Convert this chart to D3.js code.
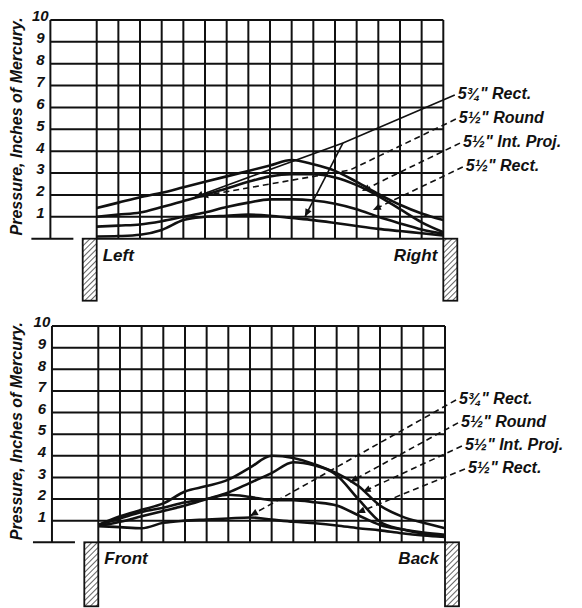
<!DOCTYPE html>
<html><head><meta charset="utf-8">
<script src="https://cdn.jsdelivr.net/npm/d3@7"></script>
<style>
body{margin:0;background:#fff}
text{font-family:"Liberation Sans",Arial,sans-serif;font-style:italic;fill:#111}
</style>
</head><body>
<svg id="chart" width="582" height="608"></svg>
<script>
// ---------- data ----------
const columns = d3.range(0, 17);               // 16 grid divisions across the span
const yTicks = [1,2,3,4,5,6,7,8,9,10];         // pressure, inches of mercury
const seriesLabels = ['5\u00BE" Rect.', '5\u00BD" Round', '5\u00BD" Int. Proj.', '5\u00BD" Rect.'];
const axisTitle = 'Pressure, Inches of Mercury.';

// Upper diagram: Left -> Right
const lrCurveA = [1.4,1.65,1.9,2.1,2.35,2.6,2.85,3.1,3.35,3.6,3.4,3.1,2.6,2.05,1.55,1.15,0.85];
const lrCurveB = [1.0,1.1,1.2,1.45,1.72,2.0,2.3,2.6,2.85,2.95,2.95,2.8,2.45,1.95,1.35,0.75,0.3];
const lrCurveC = [0.55,0.6,0.65,0.8,1.0,1.2,1.45,1.65,1.8,1.8,1.75,1.6,1.35,1.0,0.7,0.42,0.22];
const lrCurveD = [0.1,0.12,0.18,0.4,0.85,1.0,1.05,1.1,1.05,0.95,0.85,0.72,0.58,0.45,0.35,0.25,0.15];
// leader lines (column, pressure) from each label to its curve
const lrLeaders = [
  [[16.53,6.57],[11.37,4.38],[4.54,1.91]],
  [[16.58,5.47],[11.69,3.14],[4.78,1.94]],
  [[16.77,4.37],[13.4,2.75],[12.24,2.18]],
  [[16.9,3.28],[12.75,1.31]]
];
const lrBranch = [[11.37,4.38],[9.61,1.0]];

// Lower diagram: Front -> Back
const fbCurveA = [0.8,1.2,1.5,1.8,2.35,2.6,2.9,3.45,4.0,3.9,3.6,3.1,2.0,0.95,0.6,0.4,0.25];
const fbCurveB = [0.75,0.95,1.2,1.45,1.7,2.0,2.3,2.75,3.2,3.7,3.55,3.2,2.6,1.7,1.2,0.9,0.65];
const fbCurveC = [0.8,1.1,1.4,1.6,1.85,2.0,2.2,2.1,1.95,1.95,1.85,1.7,1.25,0.8,0.6,0.45,0.35];
const fbCurveD = [0.75,0.7,0.65,0.9,1.0,1.05,1.1,1.15,1.05,0.95,0.88,0.78,0.65,0.55,0.42,0.32,0.25];
const fbLeaders = [
  [[16.51,6.58],[7.0,1.22]],
  [[16.6,5.52],[11.62,2.79]],
  [[16.78,4.45],[12.2,2.33]],
  [[16.92,3.39],[11.94,1.36]]
];

// ---------- drawing ----------
const svg = d3.select('#chart');
const defs = svg.append('defs');
const pat = defs.append('pattern').attr('id','hatch').attr('patternUnits','userSpaceOnUse')
  .attr('width',4).attr('height',4).attr('patternTransform','rotate(45)');
pat.append('rect').attr('width',4).attr('height',4).attr('fill','#fff');
pat.append('line').attr('x1',0).attr('y1',0).attr('x2',0).attr('y2',4).attr('stroke','#111').attr('stroke-width',1.3);

function drawPanel(cfg){
  const g = svg.append('g');
  const x = d3.scaleLinear().domain([0,16]).range([cfg.x0, cfg.x1]);
  const y = d3.scaleLinear().domain([0,10]).range([cfg.y0, cfg.y1]);
  const leftEdge = x(0) - 2*(x(1)-x(0)) - 3;

  // grid
  const grid = g.append('g').attr('stroke','#111').attr('stroke-width',2).attr('fill','none');
  grid.selectAll('line.v').data(columns).join('line')
    .attr('x1',d=>x(d)).attr('x2',d=>x(d)).attr('y1',y(10)).attr('y2',y(0));
  grid.append('line').attr('x1',leftEdge).attr('x2',leftEdge).attr('y1',y(10)).attr('y2',y(0));
  grid.selectAll('line.h').data(yTicks).join('line')
    .attr('x1',leftEdge).attr('x2',x(16)).attr('y1',d=>y(d)).attr('y2',d=>y(d));
  grid.append('line').attr('x1',x(0)).attr('x2',x(16)).attr('y1',y(0)).attr('y2',y(0));
  grid.append('line').attr('x1',leftEdge-19).attr('x2',leftEdge+23).attr('y1',y(0)).attr('y2',y(0));

  // tick labels via axis
  const ax = g.append('g').attr('transform',`translate(${leftEdge-10},-4)`)
    .call(d3.axisLeft(y).tickValues(yTicks).tickSize(0).tickPadding(0).tickFormat(d3.format('d')));
  ax.select('.domain').remove();
  ax.selectAll('text').attr('text-anchor','middle').attr('x',0)
    .style('font-size','15px').style('font-weight','bold').style('font-style','italic')
    .style('font-family','"Liberation Sans",Arial,sans-serif');

  // axis title
  g.append('text').attr('transform',`translate(${cfg.titleX},${(y(0)+y(10))/2 - 3}) rotate(-90)`)
    .attr('text-anchor','middle').attr('dominant-baseline','middle')
    .style('font-size','16px').style('font-weight','bold').text(axisTitle);

  // walls
  const wallW = 14, wallH = cfg.wallH;
  [x(0)-wallW, x(16)].forEach(wx=>{
    g.append('rect').attr('x',wx).attr('y',y(0)).attr('width',wallW).attr('height',wallH)
      .attr('fill','url(#hatch)').attr('stroke','#111').attr('stroke-width',1.8);
  });
  g.append('text').attr('x',x(0)+6).attr('y',y(0)+22).style('font-size','17px').style('font-weight','bold').text(cfg.leftLabel);
  g.append('text').attr('x',x(16)-6).attr('y',y(0)+22).attr('text-anchor','end').style('font-size','17px').style('font-weight','bold').text(cfg.rightLabel);

  // curves
  const line = d3.line().x((d,i)=>x(columns[i])).y(d=>y(d)).curve(d3.curveMonotoneX);
  g.append('g').selectAll('path').data(cfg.curves).join('path')
    .attr('d',line).attr('fill','none').attr('stroke','#111').attr('stroke-width',2.6)
    .attr('stroke-linejoin','round');

  // leaders
  const lline = d3.line().x(d=>x(d[0])).y(d=>y(d[1]));
  cfg.leaders.forEach((pts,i)=>{
    const dashed = cfg.solidFirst ? i>0 : true;
    g.append('path').attr('d',lline(pts)).attr('fill','none').attr('stroke','#111')
      .attr('stroke-width',1.6).attr('stroke-dasharray',dashed?'6,4':null);
    arrow(g, pts[pts.length-2], pts[pts.length-1], x, y);
    const a = pts[0];
    g.append('text').attr('x',x(a[0])+3).attr('y',y(a[1])).attr('dominant-baseline','middle')
      .style('font-size','16px').style('font-weight','bold').text(seriesLabels[i]);
  });
  if (cfg.branch){
    g.append('path').attr('d',lline(cfg.branch)).attr('fill','none').attr('stroke','#111').attr('stroke-width',1.6);
    arrow(g, cfg.branch[0], cfg.branch[1], x, y);
  }
}
function arrow(g, p0, p1, x, y){
  const x0=x(p0[0]), y0=y(p0[1]), x1=x(p1[0]), y1=y(p1[1]);
  const ang = Math.atan2(y1-y0, x1-x0);
  const L=8, W=3.4;
  const bx = x1 - L*Math.cos(ang), by = y1 - L*Math.sin(ang);
  const nx = -Math.sin(ang)*W, ny = Math.cos(ang)*W;
  g.append('path').attr('d',`M${x1},${y1}L${bx+nx},${by+ny}L${bx-nx},${by-ny}Z`).attr('fill','#111');
}

drawPanel({x0:96.7, x1:443.3, y0:238.7, y1:20, titleX:18, wallH:62,
  leftLabel:'Left', rightLabel:'Right', solidFirst:true,
  curves:[lrCurveA,lrCurveB,lrCurveC,lrCurveD], leaders:lrLeaders, branch:lrBranch});
drawPanel({x0:98.3, x1:445, y0:542.3, y1:326, titleX:18, wallH:64,
  leftLabel:'Front', rightLabel:'Back', solidFirst:false,
  curves:[fbCurveA,fbCurveB,fbCurveC,fbCurveD], leaders:fbLeaders});
</script>
</body></html>
